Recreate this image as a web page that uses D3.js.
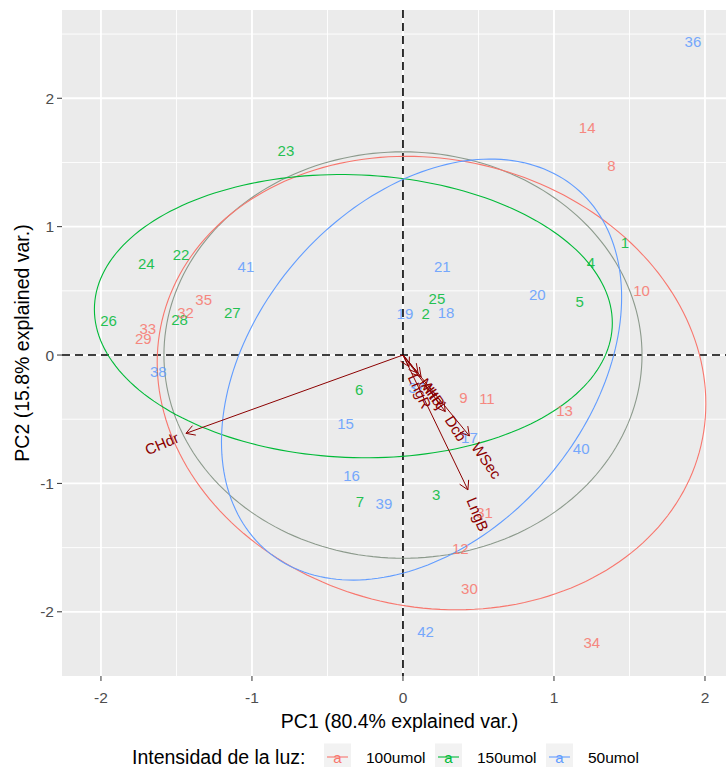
<!DOCTYPE html>
<html>
<head>
<meta charset="utf-8">
<script src="https://cdn.jsdelivr.net/npm/d3@7"></script>
<style>
  body { margin: 0; background: #fff; }
  text { font-family: "Liberation Sans", Arial, sans-serif; }
</style>
</head>
<body>
<div class="chart"></div>
<script>
// sample scores (PC1, PC2)
const ids = [1,2,3,4,5,6,7,8,9,10,11,12,13,14,15,16,17,18,19,20,21,22,23,24,25,26,27,28,29,30,31,32,33,34,35,36,37,38,39,40,41,42];
const pc1 = [1.47,0.15,0.22,1.245,1.17,-0.29,-0.285,1.38,0.40,1.58,0.556,0.38,1.07,1.22,-0.38,-0.34,0.44,0.285,0.013,0.89,0.26,-1.47,-0.775,-1.70,0.225,-1.95,-1.13,-1.48,-1.72,0.44,0.54,-1.44,-1.69,1.25,-1.32,1.92,0.09,-1.62,-0.126,1.18,-1.04,0.15];
const pc2 = [0.88,0.32,-1.09,0.72,0.42,-0.27,-1.14,1.48,-0.33,0.50,-0.34,-1.51,-0.43,1.77,-0.53,-0.94,-0.64,0.33,0.32,0.47,0.69,0.78,1.59,0.71,0.44,0.27,0.33,0.28,0.125,-1.82,-1.23,0.33,0.21,-2.24,0.43,2.445,-0.25,-0.13,-1.16,-0.73,0.69,-2.15];
const grp = ["150umol","150umol","150umol","150umol","150umol","150umol","150umol","100umol","100umol","100umol","100umol","100umol","100umol","100umol","50umol","50umol","50umol","50umol","50umol","50umol","50umol","150umol","150umol","150umol","150umol","150umol","150umol","150umol","100umol","100umol","100umol","100umol","100umol","100umol","100umol","50umol","50umol","50umol","50umol","50umol","50umol","50umol"];

// variable loadings (arrow ends)
const varNames = ["CHdr","LngB","WSec","Dcb","AltR","NHoj","LngR"];
const varX = [-1.437,0.43,0.44,0.28,0.12,0.10,0.04];
const varY = [-0.61,-1.05,-0.63,-0.44,-0.17,-0.14,-0.09];

const groupLevels = ["100umol","150umol","50umol"];
const groupColors = ["#F8766D","#00BA38","#619CFF"];
const xTicks = [-2,-1,0,1,2];
const yTicks = [-2,-1,0,1,2];

const svgWidth = 726, svgHeight = 767;
const margin = {top: 10, left: 62};
const panelRight = 737, panelBottom = 676;

const svg = d3.select(".chart").append("svg")
  .attr("width", svgWidth).attr("height", svgHeight);

const x = d3.scaleLinear().domain([-2.258, 2.212]).range([margin.left, panelRight]);
const y = d3.scaleLinear().domain([-2.5, 2.6875]).range([panelBottom, margin.top]);
const color = d3.scaleOrdinal().domain(groupLevels).range(groupColors);

const data = ids.map((id, i) => ({id, x: pc1[i], y: pc2[i], g: grp[i]}));

// panel
svg.append("rect")
  .attr("x", margin.left).attr("y", margin.top)
  .attr("width", panelRight - margin.left).attr("height", panelBottom - margin.top)
  .attr("fill", "#EBEBEB");

const minorX = d3.range(-2.5, 2.51, 1), minorY = d3.range(-2.5, 2.51, 1);
const grid = svg.append("g");
grid.selectAll(".mx").data(minorX.filter(v => x(v) > margin.left && x(v) < panelRight)).enter().append("line")
  .attr("x1", d => x(d)).attr("x2", d => x(d)).attr("y1", margin.top).attr("y2", panelBottom)
  .attr("stroke", "#fff").attr("stroke-width", 0.9);
grid.selectAll(".my").data(minorY.filter(v => y(v) > margin.top && y(v) < panelBottom)).enter().append("line")
  .attr("y1", d => y(d)).attr("y2", d => y(d)).attr("x1", margin.left).attr("x2", panelRight)
  .attr("stroke", "#fff").attr("stroke-width", 0.9);
grid.selectAll(".Mx").data(xTicks).enter().append("line")
  .attr("x1", d => x(d)).attr("x2", d => x(d)).attr("y1", margin.top).attr("y2", panelBottom)
  .attr("stroke", "#fff").attr("stroke-width", 1.8);
grid.selectAll(".My").data(yTicks).enter().append("line")
  .attr("y1", d => y(d)).attr("y2", d => y(d)).attr("x1", margin.left).attr("x2", panelRight)
  .attr("stroke", "#fff").attr("stroke-width", 1.8);

// zero lines
svg.append("line").attr("x1", margin.left).attr("x2", panelRight).attr("y1", y(0)).attr("y2", y(0))
  .attr("stroke", "#000").attr("stroke-width", 1.6).attr("stroke-dasharray", "8,5");
svg.append("line").attr("x1", x(0)).attr("x2", x(0)).attr("y1", margin.top).attr("y2", panelBottom)
  .attr("stroke", "#000").attr("stroke-width", 1.6).attr("stroke-dasharray", "8,5");

// correlation circle (ggbiplot style)
const theta = d3.range(0, 2 * Math.PI + 0.01, 2 * Math.PI / 200);
const rCircle = Math.sqrt(-2 * Math.log(1 - 0.69)) *
  Math.pow(d3.mean(pc1, v => v * v) * d3.mean(pc2, v => v * v), 0.25);
const line = d3.line().x(d => x(d[0])).y(d => y(d[1]));
svg.append("path")
  .attr("d", line(theta.map(t => [rCircle * Math.cos(t), rCircle * Math.sin(t)])))
  .attr("fill", "none").attr("stroke", "#8c9a8c").attr("stroke-width", 1.1);

// normal data ellipses per group (68%)
const ed = Math.sqrt(-2 * Math.log(1 - 0.68));
groupLevels.forEach(gName => {
  const pts = data.filter(d => d.g === gName);
  const mx = d3.mean(pts, d => d.x), my = d3.mean(pts, d => d.y);
  const n = pts.length;
  const a = d3.sum(pts, d => (d.x - mx) ** 2) / (n - 1);
  const c = d3.sum(pts, d => (d.y - my) ** 2) / (n - 1);
  const b = d3.sum(pts, d => (d.x - mx) * (d.y - my)) / (n - 1);
  const r11 = Math.sqrt(a), r12 = b / r11, r22 = Math.sqrt(c - r12 * r12);
  const ell = theta.map(t => [
    mx + ed * Math.cos(t) * r11,
    my + ed * (Math.cos(t) * r12 + Math.sin(t) * r22)
  ]);
  svg.append("path").attr("d", line(ell))
    .attr("fill", "none").attr("stroke", color(gName)).attr("stroke-width", 1.1);
});

// sample labels
svg.append("g").selectAll("text").data(data).enter().append("text")
  .attr("x", d => x(d.x)).attr("y", d => y(d.y))
  .attr("text-anchor", "middle").attr("dominant-baseline", "central")
  .attr("font-size", 15).attr("fill", d => color(d.g)).attr("opacity", 0.85)
  .text(d => d.id);

// variable arrows
const arrows = svg.append("g");
varNames.forEach((name, i) => {
  const x0 = x(0), y0 = y(0), x1 = x(varX[i]), y1 = y(varY[i]);
  arrows.append("line").attr("x1", x0).attr("y1", y0).attr("x2", x1).attr("y2", y1)
    .attr("stroke", "#8B0000").attr("stroke-width", 1);
  const ang = Math.atan2(y1 - y0, x1 - x0), hl = 10, ha = Math.PI / 6;
  arrows.append("path")
    .attr("d", `M${x1 - hl * Math.cos(ang - ha)},${y1 - hl * Math.sin(ang - ha)}L${x1},${y1}L${x1 - hl * Math.cos(ang + ha)},${y1 - hl * Math.sin(ang + ha)}`)
    .attr("fill", "none").attr("stroke", "#8B0000").attr("stroke-width", 1);
  const deg = Math.atan(varY[i] / varX[i]) * 180 / Math.PI;
  const hjust = (1 - 1.5 * Math.sign(varX[i])) / 2;
  const t = arrows.append("text")
    .attr("transform", `translate(${x1},${y1}) rotate(${-deg})`)
    .attr("dominant-baseline", "central").attr("font-size", 15).attr("fill", "#8B0000")
    .text(name);
  const w = t.node().getComputedTextLength();
  t.attr("x", -hjust * w);
});

// axes
const axB = svg.append("g");
axB.selectAll("line").data(xTicks).enter().append("line")
  .attr("x1", d => x(d)).attr("x2", d => x(d)).attr("y1", panelBottom).attr("y2", panelBottom + 5)
  .attr("stroke", "#333");
axB.selectAll("text").data(xTicks).enter().append("text")
  .attr("x", d => x(d)).attr("y", panelBottom + 21).attr("text-anchor", "middle")
  .attr("dominant-baseline", "central")
  .attr("font-size", 15.5).attr("fill", "#4D4D4D").text(d => d);
const axL = svg.append("g");
axL.selectAll("line").data(yTicks).enter().append("line")
  .attr("x1", margin.left - 5).attr("x2", margin.left).attr("y1", d => y(d)).attr("y2", d => y(d))
  .attr("stroke", "#333");
axL.selectAll("text").data(yTicks).enter().append("text")
  .attr("x", margin.left - 8).attr("y", d => y(d)).attr("text-anchor", "end")
  .attr("dominant-baseline", "central")
  .attr("font-size", 15.5).attr("fill", "#4D4D4D").text(d => d);

svg.append("text").attr("x", (margin.left + panelRight) / 2).attr("y", 721)
  .attr("text-anchor", "middle").attr("dominant-baseline", "central")
  .attr("font-size", 19.5).text("PC1 (80.4% explained var.)");
svg.append("text").attr("transform", `translate(22, ${(margin.top + panelBottom) / 2}) rotate(-90)`)
  .attr("text-anchor", "middle").attr("dominant-baseline", "central")
  .attr("font-size", 19.5).text("PC2 (15.8% explained var.)");

// legend
const leg = svg.append("g").attr("transform", "translate(132, 757)");
leg.append("text").attr("x", 0).attr("y", 0).attr("dominant-baseline", "central")
  .attr("font-size", 19.5).text("Intensidad de la luz:");
const keyX = [192, 303, 414];
groupLevels.forEach((gName, i) => {
  const k = leg.append("g").attr("transform", `translate(${keyX[i]},0)`);
  k.append("rect").attr("x", 0).attr("y", -13.5).attr("width", 27).attr("height", 27).attr("fill", "#F2F2F2");
  k.append("line").attr("x1", 3).attr("x2", 24).attr("y1", 0).attr("y2", 0)
    .attr("stroke", color(gName)).attr("stroke-width", 1.1);
  k.append("text").attr("x", 13.5).attr("y", 0).attr("text-anchor", "middle")
    .attr("dominant-baseline", "central").attr("font-size", 15).attr("fill", color(gName)).text("a");
  k.append("text").attr("x", 42).attr("y", 0).attr("dominant-baseline", "central")
    .attr("font-size", 15.5).text(gName);
});
</script>
</body>
</html>
